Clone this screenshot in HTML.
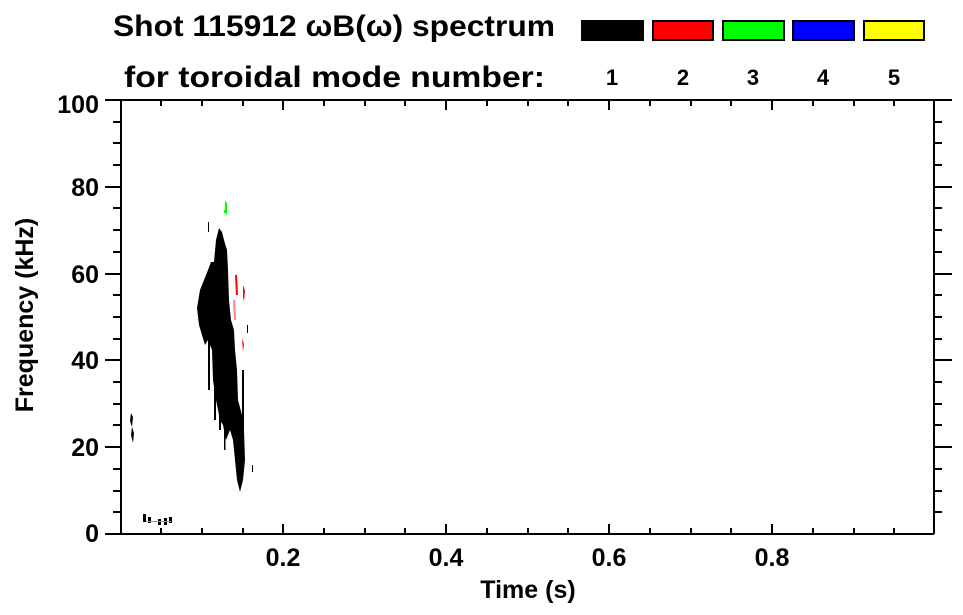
<!DOCTYPE html>
<html><head><style>body{margin:0;background:#fff}svg{display:block}</style></head><body>
<svg width="963" height="615" xmlns="http://www.w3.org/2000/svg" font-family="Liberation Sans, sans-serif" font-weight="bold">
<rect width="963" height="615" fill="#fff"/>
<text x="113" y="36" font-size="30" textLength="442" lengthAdjust="spacingAndGlyphs">Shot 115912 ωB(ω) spectrum</text>
<text x="124" y="87" font-size="30" textLength="421" lengthAdjust="spacingAndGlyphs">for toroidal mode number:</text>
<g stroke="#000" stroke-width="2">
<rect x="582" y="21" width="61" height="19" fill="#000"/>
<rect x="653" y="21" width="60" height="19" fill="#f00"/>
<rect x="723" y="21" width="61" height="19" fill="#0f0"/>
<rect x="793" y="21" width="61" height="19" fill="#00f"/>
<rect x="864" y="21" width="60" height="19" fill="#ff0"/>
</g>
<g font-size="22" text-anchor="middle">
<text x="612" y="85">1</text><text x="683" y="85">2</text><text x="753" y="85">3</text><text x="823" y="85">4</text><text x="894" y="85">5</text>
</g>
<!-- data -->
<g fill="#000">
<path d="M197,308 L200,290 L204,280 L208,270 L211,262 L214,262 L216,240 L219,228 L222,232 L224,240 L227,250 L228,270 L229,300 L231,320 L234,330 L235,350 L237,370 L238,400 L242,415 L244,430 L245,460 L243,480 L240,492 L237,480 L235,460 L233,440 L230,430 L226,440 L223,425 L220,420 L216,400 L213,380 L212,350 L208,340 L205,345 L202,335 L199,325 Z"/>
<path d="M208,330 h2 v60 h-2z M214,360 h2 v60 h-2z M219,390 h2 v40 h-2z M224,410 h1.5 v40 h-1.5z M242,370 h2 v100 h-2z"/>
<path d="M131,413 l2,4 -1,10 2,6 -1,10 -2,-8 1,-8 -2,-6z"/>
<path d="M143,514 h3 v8 h-3z M148,517 h3 v6 h-3z M158,519 h3 v6 h-3z M164,518 h3 v7 h-3z M169,517 h3 v6 h-3z"/>
<path d="M146,521 h25 v1 h-25z" fill="#999"/>
<path d="M252,465 h1 v7 h-1z M208,222 h1 v10 h-1z M247,325 h1 v8 h-1z"/>
</g>
<path d="M225,200 l2,3 0,12 -2,-3z M224,210 h1 v3 h-1z" fill="#0f0"/>
<path d="M235,275 l2,0 1,20 -2,0z M243,285 l2,6 -1,10 -1,-4z M242,338 l2,6 -1,8z" fill="#f00"/>
<path d="M233,300 l2,0 1,20 -2,0z" fill="#f88"/>
<!-- axes -->
<g stroke="#000" stroke-width="2" fill="none">
<path d="M121,100 V534 M105,534 H934 M121,100 H952 M934,100 V534"/>
<path d="M105,100 H121 M105,187 H121 M105,274 H121 M105,360 H121 M105,447 H121"/>
<path d="M934,100 H952 M934,187 H952 M934,274 H952 M934,360 H952 M934,447 H952"/>
<path id="minl" d="M113,122 H121 M113,143 H121 M113,165 H121 M113,208 H121 M113,230 H121 M113,252 H121 M113,295 H121 M113,317 H121 M113,339 H121 M113,382 H121 M113,404 H121 M113,425 H121 M113,469 H121 M113,491 H121 M113,512 H121"/>
<use href="#minl" transform="translate(821,0)"/>
<path d="M161,534 v-6 M202,534 v-6 M243,534 v-6 M283,534 v-10 M324,534 v-6 M365,534 v-6 M405,534 v-6 M446,534 v-10 M487,534 v-6 M528,534 v-6 M568,534 v-6 M609,534 v-10 M650,534 v-6 M691,534 v-6 M731,534 v-6 M772,534 v-10 M813,534 v-6 M854,534 v-6 M894,534 v-6"/>
<path d="M161,100 v6 M202,100 v6 M243,100 v6 M283,100 v10 M324,100 v6 M365,100 v6 M405,100 v6 M446,100 v10 M487,100 v6 M528,100 v6 M568,100 v6 M609,100 v10 M650,100 v6 M691,100 v6 M731,100 v6 M772,100 v10 M813,100 v6 M854,100 v6 M894,100 v6"/>
</g>
<g font-size="25" text-anchor="end">
<text x="99" y="113">100</text><text x="99" y="196">80</text><text x="99" y="283">60</text><text x="99" y="369">40</text><text x="99" y="456">20</text><text x="99" y="542">0</text>
</g>
<g font-size="25" text-anchor="middle">
<text x="283" y="566">0.2</text><text x="446" y="566">0.4</text><text x="609" y="566">0.6</text><text x="772" y="566">0.8</text>
<text x="528" y="598">Time (s)</text>
</g>
<text transform="translate(33,315) rotate(-90)" font-size="25" text-anchor="middle">Frequency (kHz)</text>
</svg>
</body></html>
